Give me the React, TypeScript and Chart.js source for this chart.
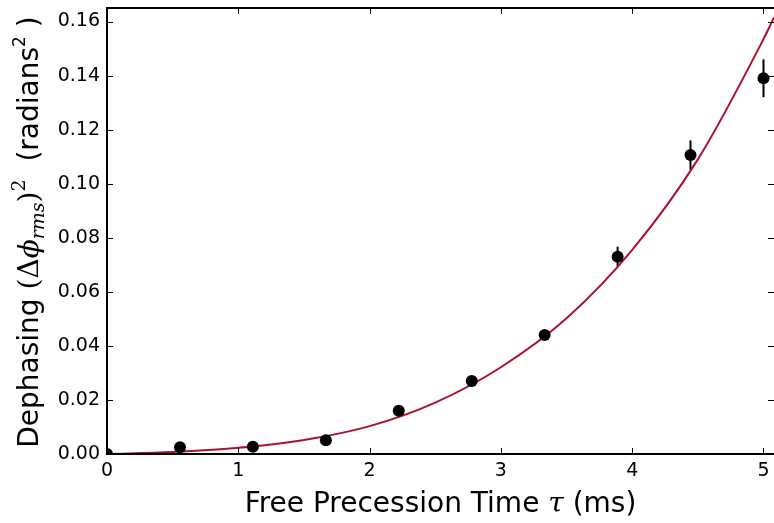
import React, { useEffect, useRef } from 'react';
import { Chart, registerables } from 'chart.js';

Chart.register(...registerables);

// Measured data (free precession time in ms, dephasing in rad^2)
const tau = [0, 0.556, 1.111, 1.667, 2.222, 2.778, 3.333, 3.889, 4.444, 5.0];
const dephasing = [0.0, 0.0025, 0.0027, 0.0051, 0.016, 0.027, 0.044, 0.073, 0.1106, 0.139];
const dephasingErr = [0.0004, 0.0005, 0.0005, 0.0006, 0.0008, 0.001, 0.0015, 0.0037, 0.0054, 0.007];

// Fit curve
const fitTau = [0, 0.5, 1, 1.5, 2, 2.5, 3, 3.5, 4, 4.5, 5, 5.08];
const fitValue = [0, 0.0007, 0.0023, 0.0052, 0.0103, 0.019, 0.0321, 0.0502, 0.0755, 0.109, 0.1535, 0.1615];

const xTicks = [0, 1, 2, 3, 4, 5];
const yTicks = [0, 0.02, 0.04, 0.06, 0.08, 0.1, 0.12, 0.14, 0.16];

const X_MIN = 0;
const X_MAX = 5.08;
const Y_MIN = 0;
const Y_MAX = 0.165;

const SANS = '"DejaVu Sans", sans-serif';
const SERIF = '"DejaVu Serif", serif';

type Seg = { t: string; font: string; dy?: number };

function drawRich(ctx: CanvasRenderingContext2D, segs: Seg[], cx: number, cy: number) {
  let total = 0;
  const widths: number[] = [];
  for (const s of segs) {
    ctx.font = s.font;
    const w = ctx.measureText(s.t).width;
    widths.push(w);
    total += w;
  }
  let x = cx - total / 2;
  ctx.textAlign = 'left';
  ctx.textBaseline = 'alphabetic';
  segs.forEach((s, i) => {
    ctx.font = s.font;
    ctx.fillText(s.t, x, cy + (s.dy || 0));
    x += widths[i];
  });
}

const framePlugin = {
  id: 'frame',
  beforeDatasetsDraw(chart: any) {
    const ctx = chart.ctx as CanvasRenderingContext2D;
    const xs = chart.scales.x;
    const ys = chart.scales.y;
    ctx.save();
    ctx.strokeStyle = '#000';
    ctx.lineWidth = 2;
    tau.forEach((t, i) => {
      const px = xs.getPixelForValue(t);
      const y1 = ys.getPixelForValue(dephasing[i] - dephasingErr[i]);
      const y2 = ys.getPixelForValue(dephasing[i] + dephasingErr[i]);
      ctx.beginPath();
      ctx.moveTo(px, y1);
      ctx.lineTo(px, y2);
      ctx.stroke();
    });
    ctx.restore();
  },
  afterDraw(chart: any) {
    const ctx = chart.ctx as CanvasRenderingContext2D;
    const { left, right, top, bottom } = chart.chartArea;
    const xs = chart.scales.x;
    const ys = chart.scales.y;
    ctx.save();
    // ticks
    ctx.strokeStyle = '#000';
    ctx.lineWidth = 1;
    const tl = 6;
    xTicks.forEach((v) => {
      const px = Math.round(xs.getPixelForValue(v)) + 0.5;
      ctx.beginPath();
      ctx.moveTo(px, bottom);
      ctx.lineTo(px, bottom - tl);
      ctx.moveTo(px, top);
      ctx.lineTo(px, top + tl);
      ctx.stroke();
    });
    yTicks.forEach((v) => {
      const py = Math.round(ys.getPixelForValue(v)) + 0.5;
      ctx.beginPath();
      ctx.moveTo(left, py);
      ctx.lineTo(left + tl, py);
      ctx.moveTo(right, py);
      ctx.lineTo(right - tl, py);
      ctx.stroke();
    });
    // spines
    ctx.lineWidth = 2;
    ctx.beginPath();
    ctx.moveTo(left, top);
    ctx.lineTo(left, bottom);
    ctx.lineTo(right + 2, bottom);
    ctx.moveTo(left - 1, top);
    ctx.lineTo(right + 2, top);
    ctx.stroke();

    // axis titles
    ctx.fillStyle = '#000';
    const fs = 28;
    drawRich(
      ctx,
      [
        { t: 'Free Precession Time ', font: `${fs}px ${SANS}` },
        { t: 'τ', font: `italic ${fs}px ${SERIF}` },
        { t: ' (ms)', font: `${fs}px ${SANS}` },
      ],
      (left + right) / 2,
      512
    );
    ctx.save();
    ctx.translate(38, (top + bottom) / 2 + 1);
    ctx.rotate(-Math.PI / 2);
    drawRich(
      ctx,
      [
        { t: 'Dephasing ', font: `${fs}px ${SANS}` },
        { t: '(Δ', font: `${fs}px ${SERIF}` },
        { t: 'ϕ', font: `italic ${fs}px ${SERIF}` },
        { t: 'rms', font: `italic 19px ${SERIF}`, dy: 6 },
        { t: ')', font: `${fs}px ${SERIF}` },
        { t: '2', font: `19px ${SERIF}`, dy: -13 },
        { t: '  (radians', font: `${fs}px ${SANS}` },
        { t: '2', font: `17px ${SANS}`, dy: -13 },
        { t: ' )', font: `${fs}px ${SANS}` },
      ],
      0,
      0
    );
    ctx.restore();
    ctx.restore();
  },
};

export default function App() {
  const ref = useRef<HTMLCanvasElement | null>(null);

  useEffect(() => {
    if (!ref.current) return;
    const chart = new Chart(ref.current, {
      type: 'scatter',
      data: {
        datasets: [
          {
            type: 'line',
            data: fitTau.map((x, i) => ({ x, y: fitValue[i] })),
            borderColor: '#ac1131',
            borderWidth: 2,
            pointRadius: 0,
            cubicInterpolationMode: 'monotone',
            fill: false,
            order: 2,
          } as any,
          {
            type: 'scatter',
            data: tau.map((x, i) => ({ x, y: dephasing[i] })),
            backgroundColor: '#000',
            borderColor: '#000',
            pointRadius: 6,
            pointHoverRadius: 6,
            borderWidth: 0,
            order: 1,
          },
        ],
      },
      options: {
        animation: false,
        responsive: false,
        events: [],
        layout: { autoPadding: false, padding: { top: 8, left: 0, right: 0, bottom: 0 } },
        plugins: { legend: { display: false }, tooltip: { enabled: false } },
        scales: {
          x: {
            type: 'linear',
            min: X_MIN,
            max: X_MAX,
            grid: { display: false, drawTicks: false },
            border: { display: false },
            afterBuildTicks: (s: any) => {
              s.ticks = xTicks.map((v) => ({ value: v }));
            },
            afterFit: (s: any) => {
              s.height = 69;
              s.paddingLeft = 0;
              s.paddingRight = 0;
            },
            ticks: {
              color: '#000',
              font: { family: 'DejaVu Sans', size: 19 },
              padding: 6,
              maxRotation: 0,
              callback: (v: any) => String(v),
            },
          },
          y: {
            type: 'linear',
            min: Y_MIN,
            max: Y_MAX,
            grid: { display: false, drawTicks: false },
            border: { display: false },
            afterBuildTicks: (s: any) => {
              s.ticks = yTicks.map((v) => ({ value: v }));
            },
            afterFit: (s: any) => {
              s.width = 107;
              s.paddingTop = 0;
              s.paddingBottom = 0;
            },
            ticks: {
              color: '#000',
              font: { family: 'DejaVu Sans', size: 19 },
              padding: 7,
              callback: (v: any) => Number(v).toFixed(2),
            },
          },
        },
      },
      plugins: [framePlugin],
    });
    return () => chart.destroy();
  }, []);

  return (
    <div style={{ position: 'fixed', left: 0, top: 0, width: 774, height: 523, background: '#fff' }}>
      <canvas ref={ref} width={774} height={523} style={{ display: 'block' }} />
    </div>
  );
}
